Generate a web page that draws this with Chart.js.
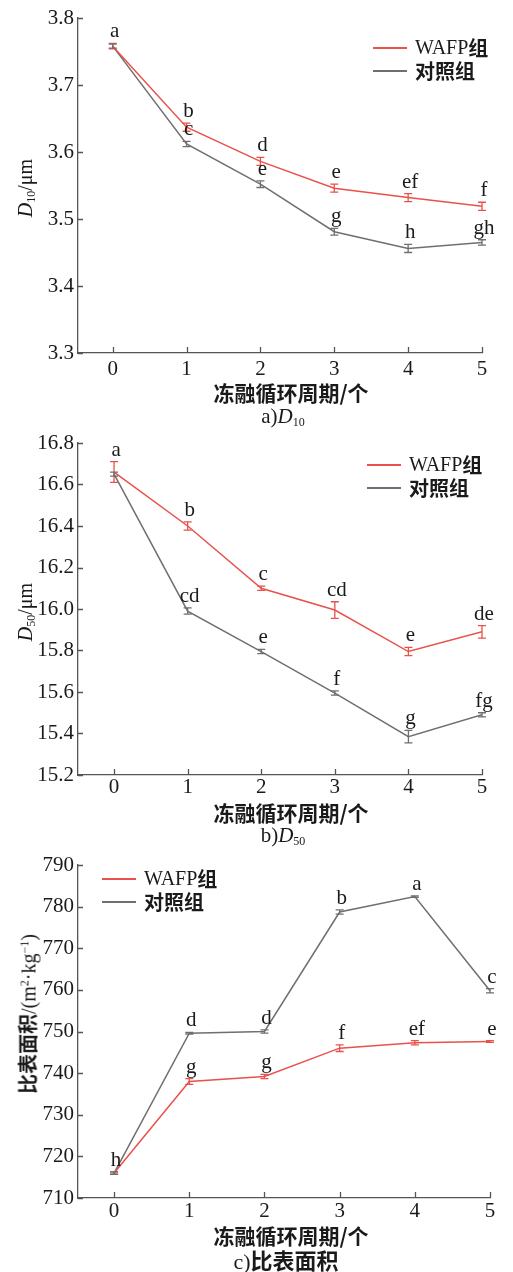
<!DOCTYPE html>
<html><head><meta charset="utf-8">
<script src="https://cdn.jsdelivr.net/npm/chart.js@4.4.0/dist/chart.umd.min.js"></script>
<style>
body{margin:0;background:#fff;width:513px;height:1272px;position:relative;overflow:hidden;}
canvas{display:block;position:absolute;left:0;}
.ytitle{position:absolute;transform:translate(-50%,-50%) rotate(-90deg);white-space:nowrap;font-family:'Liberation Serif',serif;font-size:20px;color:#1a1a1a;line-height:1;}
.cap{position:absolute;transform:translate(-50%,-50%);white-space:nowrap;font-family:'Liberation Serif',serif;font-size:21px;color:#1a1a1a;line-height:1;}
.xt{position:absolute;transform:translate(-50%,-50%);white-space:nowrap;font-family:'Noto Sans CJK SC',sans-serif;font-weight:bold;font-size:21px;color:#1a1a1a;line-height:1;}
sub{font-size:12px;vertical-align:-3px;}
sup{font-size:12px;vertical-align:7px;}
.legend{position:absolute;font-size:20px;color:#1a1a1a;}
.legrow{display:flex;align-items:center;height:23px;}
.legline{width:34px;height:0;border-top:2px solid;margin-right:8px;}
.cjk{font-family:'Noto Sans CJK SC',sans-serif;font-weight:bold;}
.lat{font-family:'Liberation Serif',serif;}
</style>
</head><body>
<canvas id="ca" width="513" height="405" style="top:0px"></canvas>
<canvas id="cb" width="513" height="400" style="top:425px"></canvas>
<canvas id="cc" width="513" height="403" style="top:845px"></canvas>

<div class="ytitle" style="left:26px;top:188px"><i>D</i><sub>10</sub>/μm</div>
<div class="ytitle" style="left:26px;top:612px"><i>D</i><sub>50</sub>/μm</div>
<div class="ytitle" style="left:28px;top:1014px"><span class="cjk">比表面积</span>/(m<sup>2</sup>·kg<sup>−1</sup>)</div>

<div class="xt" style="left:291px;top:392px">冻融循环周期/个</div>
<div class="xt" style="left:291px;top:812px">冻融循环周期/个</div>
<div class="xt" style="left:291px;top:1235px">冻融循环周期/个</div>

<div class="cap" style="left:283px;top:417px">a)<i>D</i><sub>10</sub></div>
<div class="cap" style="left:283px;top:836px">b)<i>D</i><sub>50</sub></div>
<div class="cap" style="left:286px;top:1260px;font-size:22px">c)<span class="cjk">比表面积</span></div>

<div class="legend" style="left:373px;top:36px">
 <div class="legrow"><div class="legline" style="border-color:#e9514b"></div><span class="lat">WAFP</span><span class="cjk">组</span></div>
 <div class="legrow"><div class="legline" style="border-color:#6f6f6f"></div><span class="cjk">对照组</span></div>
</div>
<div class="legend" style="left:367px;top:453px">
 <div class="legrow"><div class="legline" style="border-color:#e9514b"></div><span class="lat">WAFP</span><span class="cjk">组</span></div>
 <div class="legrow"><div class="legline" style="border-color:#6f6f6f"></div><span class="cjk">对照组</span></div>
</div>
<div class="legend" style="left:102px;top:867px">
 <div class="legrow"><div class="legline" style="border-color:#e9514b"></div><span class="lat">WAFP</span><span class="cjk">组</span></div>
 <div class="legrow"><div class="legline" style="border-color:#6f6f6f"></div><span class="cjk">对照组</span></div>
</div>

<script>
// ---------- data ----------
const cycles = [0, 1, 2, 3, 4, 5];
const xTicks = [0, 1, 2, 3, 4, 5];
const seriesNames = ['WAFP组', '对照组'];

// a) D10
const d10Wafp    = [3.758, 3.637, 3.586, 3.546, 3.532, 3.519];
const d10WafpErr = [0.004, 0.006, 0.006, 0.006, 0.006, 0.006];
const d10WafpSig = ['a', 'b', 'd', 'e', 'ef', 'f'];
const d10Ctrl    = [3.758, 3.612, 3.552, 3.481, 3.456, 3.465];
const d10CtrlErr = [0.003, 0.004, 0.005, 0.005, 0.006, 0.004];
const d10CtrlSig = ['', 'c', 'e', 'g', 'h', 'gh'];
const d10Ticks   = [3.3, 3.4, 3.5, 3.6, 3.7, 3.8];

// b) D50
const d50Wafp    = [16.66, 16.40, 16.10, 15.995, 15.795, 15.89];
const d50WafpErr = [0.05, 0.02, 0.01, 0.04, 0.02, 0.03];
const d50WafpSig = ['a', 'b', 'c', 'cd', 'e', 'de'];
const d50Ctrl    = [16.65, 15.99, 15.795, 15.595, 15.385, 15.49];
const d50CtrlErr = [0.01, 0.015, 0.01, 0.01, 0.03, 0.01];
const d50CtrlSig = ['', 'cd', 'e', 'f', 'g', 'fg'];
const d50Ticks   = [15.2, 15.4, 15.6, 15.8, 16.0, 16.2, 16.4, 16.6, 16.8];

// c) specific surface area
const ssaWafp    = [716.0, 738.0, 739.2, 746.0, 747.3, 747.6];
const ssaWafpErr = [0.3, 0.7, 0.5, 0.8, 0.5, 0.2];
const ssaWafpSig = ['', 'g', 'g', 'f', 'ef', 'e'];
const ssaCtrl    = [716.0, 749.6, 750.0, 778.7, 782.4, 759.8];
const ssaCtrlErr = [0.3, 0.2, 0.4, 0.5, 0.2, 0.5];
const ssaCtrlSig = ['h', 'd', 'd', 'b', 'a', 'c'];
const ssaTicks   = [710, 720, 730, 740, 750, 760, 770, 780, 790];

// ---------- drawing ----------
const RED = '#e9514b', GRAY = '#6f6f6f', AXIS = '#555', TXT = '#1a1a1a';
const serif = "'Liberation Serif', serif";

const extras = {
  id: 'extras',
  afterDatasetsDraw(chart) {
    const {ctx, scales: {x, y}} = chart;
    ctx.save();
    chart.data.datasets.forEach(ds => {
      ctx.strokeStyle = ds.borderColor;
      ctx.lineWidth = 1.3;
      ds.data.forEach((p, j) => {
        const e = ds.errors[j];
        const px = x.getPixelForValue(p.x);
        const pt = y.getPixelForValue(p.y + e);
        const pb = y.getPixelForValue(p.y - e);
        ctx.beginPath();
        ctx.moveTo(px, pt); ctx.lineTo(px, pb);
        ctx.moveTo(px - 4, pt); ctx.lineTo(px + 4, pt);
        ctx.moveTo(px - 4, pb); ctx.lineTo(px + 4, pb);
        ctx.stroke();
      });
    });
    ctx.fillStyle = TXT;
    ctx.font = '21px ' + serif;
    ctx.textAlign = 'center';
    ctx.textBaseline = 'bottom';
    chart.data.datasets.forEach(ds => {
      ds.data.forEach((p, j) => {
        const s = ds.sig[j];
        if (!s) return;
        const px = x.getPixelForValue(p.x);
        const pt = y.getPixelForValue(p.y + ds.errors[j]);
        ctx.fillText(s, px + 2, pt - 1);
      });
    });
    ctx.restore();
  },
  afterDraw(chart) {
    const {ctx, chartArea: a, scales: {x, y}} = chart;
    ctx.save();
    ctx.strokeStyle = AXIS;
    ctx.lineWidth = 1.3;
    ctx.beginPath();
    x.ticks.forEach(t => {
      const px = Math.round(x.getPixelForValue(t.value)) + 0.5;
      ctx.moveTo(px, a.bottom); ctx.lineTo(px, a.bottom - 6);
    });
    y.ticks.forEach(t => {
      const py = Math.round(y.getPixelForValue(t.value)) + 0.5;
      ctx.moveTo(a.left, py); ctx.lineTo(a.left + 5, py);
    });
    ctx.stroke();
    ctx.restore();
  }
};

function pts(vals) { return cycles.map((c, i) => ({x: c, y: vals[i]})); }

function makeChart(id, g) {
  new Chart(document.getElementById(id), {
    type: 'line',
    data: {
      datasets: [
        {label: seriesNames[0], data: pts(g.wafp), errors: g.wafpErr, sig: g.wafpSig,
         borderColor: RED, backgroundColor: RED, borderWidth: 1.5, pointRadius: 0, tension: 0},
        {label: seriesNames[1], data: pts(g.ctrl), errors: g.ctrlErr, sig: g.ctrlSig,
         borderColor: GRAY, backgroundColor: GRAY, borderWidth: 1.5, pointRadius: 0, tension: 0}
      ]
    },
    options: {
      responsive: false, animation: false,
      layout: {padding: {left: 0, top: g.padTop, right: g.padRight, bottom: 0}},
      plugins: {legend: {display: false}, tooltip: {enabled: false}},
      scales: {
        x: {
          type: 'linear', min: g.xMin, max: 5,
          afterBuildTicks: s => { s.ticks = xTicks.map(v => ({value: v})); },
          afterFit: s => { s.height = g.xHeight; },
          grid: {display: true, drawOnChartArea: false, drawTicks: false},
          border: {display: true, color: AXIS, width: 1.3},
          ticks: {color: TXT, font: {family: serif, size: 21}, padding: g.xPad, maxRotation: 0,
                  callback: v => String(v)},
          title: {display: false}
        },
        y: {
          type: 'linear', min: g.yTicks[0], max: g.yTicks[g.yTicks.length - 1],
          afterBuildTicks: s => { s.ticks = g.yTicks.map(v => ({value: v})); },
          afterFit: s => { s.width = 78; },
          grid: {display: true, drawOnChartArea: false, drawTicks: false},
          border: {display: true, color: AXIS, width: 1.3},
          ticks: {color: TXT, font: {family: serif, size: 21}, padding: 4,
                  callback: v => Number(v).toFixed(g.dec)}
        }
      }
    },
    plugins: [extras]
  });
}

makeChart('ca', {wafp: d10Wafp, wafpErr: d10WafpErr, wafpSig: d10WafpSig,
  ctrl: d10Ctrl, ctrlErr: d10CtrlErr, ctrlSig: d10CtrlSig, yTicks: d10Ticks, dec: 1,
  xMin: -0.47, padTop: 18, padRight: 31, xHeight: 52, xPad: 4});
makeChart('cb', {wafp: d50Wafp, wafpErr: d50WafpErr, wafpSig: d50WafpSig,
  ctrl: d50Ctrl, ctrlErr: d50CtrlErr, ctrlSig: d50CtrlSig, yTicks: d50Ticks, dec: 1,
  xMin: -0.49, padTop: 18, padRight: 31, xHeight: 50, xPad: 0});
makeChart('cc', {wafp: ssaWafp, wafpErr: ssaWafpErr, wafpSig: ssaWafpSig,
  ctrl: ssaCtrl, ctrlErr: ssaCtrlErr, ctrlSig: ssaCtrlSig, yTicks: ssaTicks, dec: 0,
  xMin: -0.48, padTop: 20, padRight: 23, xHeight: 50, xPad: 1});
</script>
</body></html>
